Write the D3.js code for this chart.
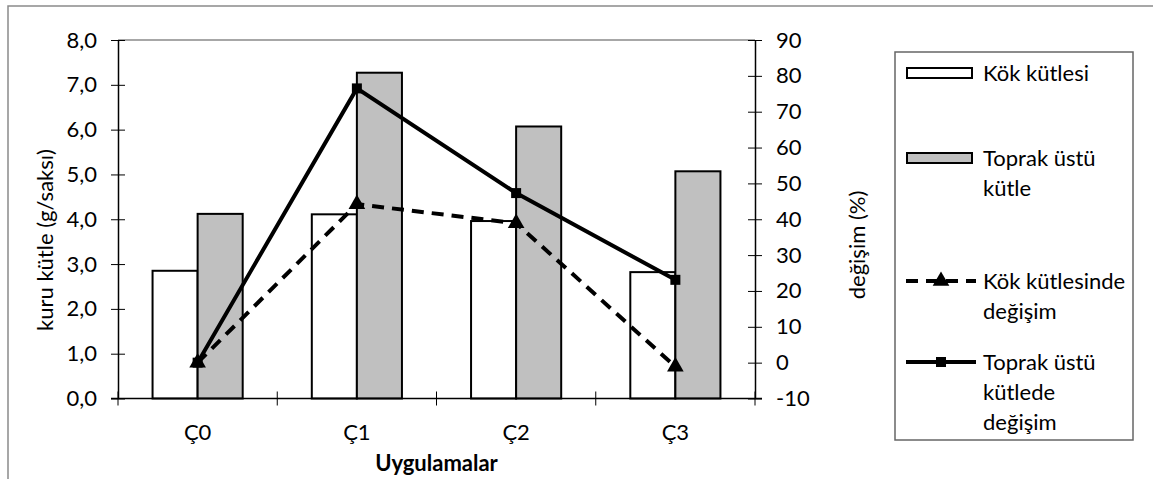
<!DOCTYPE html>
<html><head><meta charset="utf-8">
<script src="https://cdn.jsdelivr.net/npm/d3@7"></script>
<style>body{margin:0;background:#fff} text{font-family:Lato, "Open Sans", sans-serif; fill:#000}</style>
</head><body><svg id="c" width="1153" height="479"></svg>
<script>
const categories = ["Ç0", "Ç1", "Ç2", "Ç3"];
const kokKutlesi = [2.85, 4.11, 3.96, 2.82];
const toprakUstuKutle = [4.12, 7.27, 6.07, 5.07];
const kokDegisim = [0, 44.2, 38.9, -1.1];
const toprakDegisim = [0, 76.5, 47.3, 23.1];
const leftTicks = [0, 1, 2, 3, 4, 5, 6, 7, 8];
const rightTicks = [-10, 0, 10, 20, 30, 40, 50, 60, 70, 80, 90];
const legendLines = [["Kök kütlesi"], ["Toprak üstü", "kütle"], ["Kök kütlesinde", "değişim"], ["Toprak üstü", "kütlede", "değişim"]];

const svg = d3.select("#c");
const FS = 22;
const L = 118, R = 755, T = 40, B = 398.5;

const x = d3.scaleBand().domain(categories).range([L, R]).padding(0);
const yL = d3.scaleLinear().domain([0, 8]).range([B, T]);
const yR = d3.scaleLinear().domain([-10, 90]).range([B, T]);
const bw = x.bandwidth() * 0.283;

// outer frame
svg.append("path").attr("d", "M8,479 L8,6 L1153,6").attr("fill", "none").attr("stroke", "#8a8a8a").attr("stroke-width", 1.5);

// plot top border
svg.append("line").attr("x1", L).attr("x2", R).attr("y1", T).attr("y2", T).attr("stroke", "#8a8a8a").attr("stroke-width", 1.5);

// bars
const g = svg.append("g");
g.selectAll("rect.k").data(categories).join("rect")
  .attr("x", d => x(d) + x.bandwidth() / 2 - bw)
  .attr("y", (d, i) => yL(kokKutlesi[i]))
  .attr("width", bw)
  .attr("height", (d, i) => yL(0) - yL(kokKutlesi[i]))
  .attr("fill", "#fff").attr("stroke", "#000").attr("stroke-width", 2);
g.selectAll("rect.t").data(categories).join("rect")
  .attr("x", d => x(d) + x.bandwidth() / 2)
  .attr("y", (d, i) => yL(toprakUstuKutle[i]))
  .attr("width", bw)
  .attr("height", (d, i) => yL(0) - yL(toprakUstuKutle[i]))
  .attr("fill", "#c0c0c0").attr("stroke", "#000").attr("stroke-width", 2);

// axes
const axL = d3.axisLeft(yL).tickValues(leftTicks).tickSize(0).tickFormat(d => d3.format(".1f")(d).replace(".", ","));
const axR = d3.axisRight(yR).tickValues(rightTicks).tickSize(0).tickFormat(d => String(d));
const gl = svg.append("g").attr("transform", `translate(${L},0)`).call(axL);
gl.select(".domain").attr("stroke", "#000").attr("stroke-width", 1.5);
gl.selectAll(".tick text").attr("x", -21).attr("font-size", FS).attr("font-family", "Lato").attr("fill", "#000");
gl.selectAll(".tick").append("line").attr("x1", -7).attr("x2", 7).attr("stroke", "#000").attr("stroke-width", 1);

const gr = svg.append("g").attr("transform", `translate(${R},0)`).call(axR);
gr.select(".domain").attr("stroke", "#000").attr("stroke-width", 1.5);
gr.selectAll(".tick text").attr("x", 21).attr("font-size", FS).attr("font-family", "Lato").attr("fill", "#000");
gr.selectAll(".tick").append("line").attr("x1", -7).attr("x2", 7).attr("stroke", "#000").attr("stroke-width", 1);

const gx = svg.append("g").attr("transform", `translate(0,${B})`);
gx.append("line").attr("x1", L - 7).attr("x2", R + 7).attr("stroke", "#000").attr("stroke-width", 1.5);
const bounds = categories.map(d => x(d)).concat([R]);
gx.selectAll("line.t").data(bounds).join("line").attr("class", "t")
  .attr("x1", d => d).attr("x2", d => d).attr("y1", -7).attr("y2", 7).attr("stroke", "#000").attr("stroke-width", 1);
gx.selectAll("text.c").data(categories).join("text").attr("class", "c")
  .attr("x", d => x(d) + x.bandwidth() / 2).attr("y", 41)
  .attr("text-anchor", "middle").attr("font-size", FS).text(d => d);

// axis titles
svg.append("text").attr("transform", "translate(53,240) rotate(-90)").attr("text-anchor", "middle").attr("font-size", FS).text("kuru kütle (g/saksı)");
svg.append("text").attr("transform", "translate(865,245) rotate(-90)").attr("text-anchor", "middle").attr("font-size", FS).text("değişim (%)");
svg.append("text").attr("x", (L + R) / 2).attr("y", 471).attr("text-anchor", "middle").attr("font-size", FS).attr("font-weight", "bold").text("Uygulamalar");

// lines
const cx = i => x(categories[i]) + x.bandwidth() / 2;
const line = d3.line().x((d, i) => cx(i)).y(d => yR(d));
svg.append("path").datum(kokDegisim).attr("d", line).attr("fill", "none").attr("stroke", "#000").attr("stroke-width", 4).attr("stroke-dasharray", "12,8");
svg.append("path").datum(toprakDegisim).attr("d", line).attr("fill", "none").attr("stroke", "#000").attr("stroke-width", 4);
const tri = d3.symbol().type(d3.symbolTriangle).size(120);
const sq = d3.symbol().type(d3.symbolSquare).size(100);
svg.selectAll("path.tri").data(kokDegisim).join("path").attr("class", "tri")
  .attr("d", tri).attr("transform", (d, i) => `translate(${cx(i)},${yR(d)})`).attr("fill", "#000");
svg.selectAll("path.sq").data(toprakDegisim).join("path").attr("class", "sq")
  .attr("d", sq).attr("transform", (d, i) => `translate(${cx(i)},${yR(d)})`).attr("fill", "#000");

// legend
const lg = svg.append("g");
lg.append("rect").attr("x", 895).attr("y", 52).attr("width", 238).attr("height", 388).attr("fill", "#fff").attr("stroke", "#666").attr("stroke-width", 1.5);
const entryY = [73, 158, 281, 362];
const lh = 30;
const tx = 983;
legendLines.forEach((lines, k) => {
  lines.forEach((s, j) => {
    lg.append("text").attr("x", tx).attr("y", entryY[k] + j * lh).attr("dy", "0.35em").attr("font-size", FS).text(s);
  });
});
lg.append("rect").attr("x", 907).attr("y", entryY[0] - 5).attr("width", 65).attr("height", 10).attr("fill", "#fff").attr("stroke", "#000").attr("stroke-width", 2);
lg.append("rect").attr("x", 907).attr("y", entryY[1] - 5).attr("width", 65).attr("height", 10).attr("fill", "#c0c0c0").attr("stroke", "#000").attr("stroke-width", 2);
lg.append("line").attr("x1", 906).attr("x2", 976).attr("y1", entryY[2]).attr("y2", entryY[2]).attr("stroke", "#000").attr("stroke-width", 4).attr("stroke-dasharray", "12,8");
lg.append("path").attr("d", tri).attr("transform", `translate(941,${entryY[2]})`).attr("fill", "#000");
lg.append("line").attr("x1", 906).attr("x2", 976).attr("y1", entryY[3]).attr("y2", entryY[3]).attr("stroke", "#000").attr("stroke-width", 4);
lg.append("path").attr("d", sq).attr("transform", `translate(941,${entryY[3]})`).attr("fill", "#000");
</script></body></html>
